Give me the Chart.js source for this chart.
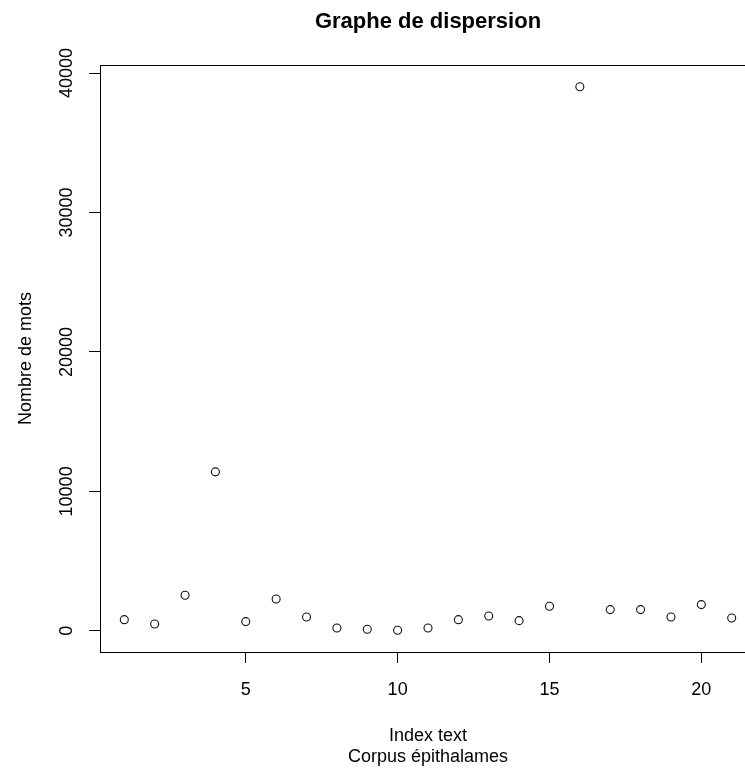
<!DOCTYPE html>
<html>
<head>
<meta charset="utf-8">
<script src="https://cdn.jsdelivr.net/npm/chart.js@4/dist/chart.umd.min.js"></script>
<style>
  html, body { margin: 0; padding: 0; background: #fff; overflow: hidden; }
  #wrap { width: 745px; height: 769px; overflow: hidden; position: relative; }
  canvas { display: block; }
</style>
</head>
<body>
<div id="wrap"><canvas id="c" width="780" height="769" style="width:780px;height:769px"></canvas></div>
<script>
// ---- Data ----
const indexText = [1, 2, 3, 4, 5, 6, 7, 8, 9, 10, 11, 12, 13, 14, 15, 16, 17, 18, 19, 20, 21];
const nombreMots = [800, 490, 2550, 11400, 660, 2280, 990, 200, 110, 40, 200, 800, 1060, 730, 1760, 39020, 1520, 1520, 990, 1880, 920];
const xTicks = [5, 10, 15, 20];
const yTicks = [0, 10000, 20000, 30000, 40000];
const titleText = 'Graphe de dispersion';
const xLabelLines = ['Index text', 'Corpus épithalames'];
const yLabelText = 'Nombre de mots';

// R-style axis ranges (data range extended by 4% each side)
function rRange(vals) {
  const lo = Math.min(...vals), hi = Math.max(...vals);
  const ext = (hi - lo) * 0.04;
  return [lo - ext, hi + ext];
}
const [xMin, xMax] = rRange(indexText);
const [yMin, yMax] = rRange(nombreMots);

const FONT = '"Liberation Sans", Arial, Helvetica, sans-serif';

const points = indexText.map((x, i) => ({ x: x, y: nombreMots[i] }));

const decor = {
  id: 'decor',
  afterDraw(chart) {
    const ctx = chart.ctx;
    const a = chart.chartArea;
    const ys = chart.scales.y;
    ctx.save();
    // full box
    ctx.strokeStyle = '#000';
    ctx.lineWidth = 1;
    ctx.strokeRect(Math.round(a.left) + 0.5, Math.round(a.top) + 0.5,
                   Math.round(a.right - a.left), Math.round(a.bottom - a.top));
    const cx = (a.left + a.right) / 2;
    const cy = (a.top + a.bottom) / 2;
    ctx.fillStyle = '#000';
    // title
    ctx.font = 'bold 22px ' + FONT;
    ctx.textAlign = 'center';
    ctx.textBaseline = 'alphabetic';
    ctx.fillText(titleText, cx, 28);
    // x label
    ctx.font = '18px ' + FONT;
    ctx.fillText(xLabelLines[0], cx, 741);
    ctx.fillText(xLabelLines[1], cx, 762);
    // y label (rotated)
    ctx.save();
    ctx.translate(31, cy);
    ctx.rotate(-Math.PI / 2);
    ctx.fillText(yLabelText, 0, 0);
    ctx.restore();
    // y tick labels (rotated, as in R)
    ys.ticks.forEach(t => {
      const py = ys.getPixelForValue(t.value);
      ctx.save();
      ctx.translate(72, py);
      ctx.rotate(-Math.PI / 2);
      ctx.textAlign = 'center';
      ctx.fillText(String(t.value), 0, 0);
      ctx.restore();
    });
    ctx.restore();
  }
};

new Chart(document.getElementById('c'), {
  type: 'scatter',
  data: {
    datasets: [{
      data: points,
      pointStyle: 'circle',
      pointRadius: 4,
      pointHoverRadius: 4,
      borderColor: '#111',
      borderWidth: 1.1,
      backgroundColor: 'rgba(0,0,0,0)',
      showLine: false
    }]
  },
  options: {
    responsive: false,
    animation: false,
    devicePixelRatio: 1,
    layout: { padding: { top: 65, right: 24, left: 0, bottom: 0 } },
    plugins: {
      legend: { display: false },
      title: { display: false },
      tooltip: { enabled: false }
    },
    scales: {
      x: {
        type: 'linear',
        position: 'bottom',
        min: xMin,
        max: xMax,
        afterBuildTicks: s => { s.ticks = xTicks.map(v => ({ value: v })); },
        afterFit: s => { s.height = 117; },
        grid: { drawOnChartArea: false, drawTicks: true, tickLength: 11, color: '#000', lineWidth: 1 },
        border: { display: true, color: '#000', width: 1 },
        ticks: { color: '#000', font: { family: FONT, size: 18 }, padding: 16, maxRotation: 0, minRotation: 0 }
      },
      y: {
        type: 'linear',
        position: 'left',
        min: yMin,
        max: yMax,
        afterBuildTicks: s => { s.ticks = yTicks.map(v => ({ value: v })); },
        afterFit: s => { s.width = 100; },
        grid: { drawOnChartArea: false, drawTicks: true, tickLength: 11, color: '#000', lineWidth: 1 },
        border: { display: true, color: '#000', width: 1 },
        ticks: { display: false }
      }
    }
  },
  plugins: [decor]
});
</script>
</body>
</html>
